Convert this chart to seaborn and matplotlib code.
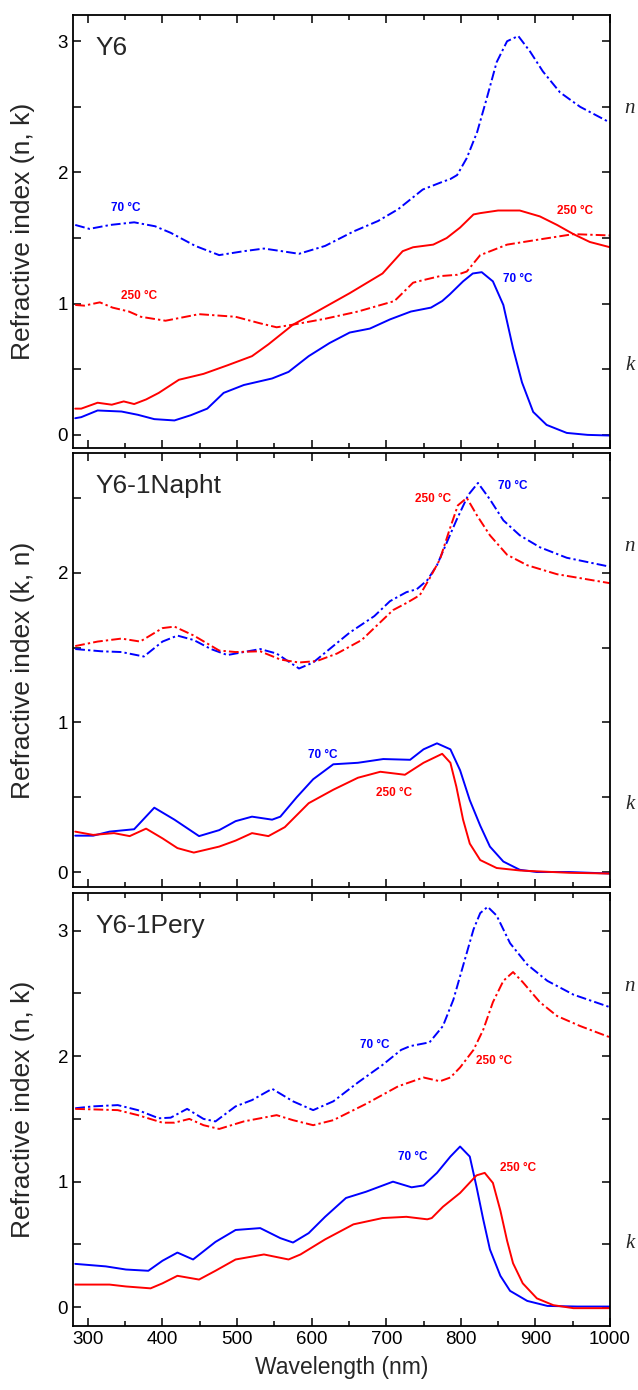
import matplotlib
matplotlib.use("Agg")
import matplotlib.pyplot as plt
import seaborn as sns
from matplotlib.ticker import MultipleLocator

sns.set_theme(style="ticks", context="paper")
plt.rcParams.update({
    "font.family": ["Liberation Sans", "DejaVu Sans"],
    "xtick.direction": "in",
    "ytick.direction": "in",
    "axes.linewidth": 1.3,
})

# ---- Y6 ----
y6_n70_wl = [283, 302, 330, 362, 390, 411, 444, 476, 509, 536, 560, 583, 618, 656, 689, 716, 749, 776, 786,
             795, 808, 822, 835, 848, 862, 877, 893, 910, 933, 960, 1000]
y6_n70 = [1.60, 1.57, 1.60, 1.62, 1.59, 1.54, 1.44, 1.37, 1.40, 1.42, 1.40, 1.38, 1.44, 1.55, 1.63, 1.72, 1.87,
          1.93, 1.95, 1.98, 2.11, 2.31, 2.57, 2.84, 3.00, 3.04, 2.92, 2.77, 2.61, 2.50, 2.38]
y6_n250_wl = [283, 295, 316, 333, 355, 371, 404, 449, 498, 531, 553, 575, 618, 662, 711, 736, 750, 772, 795,
              808, 826, 862, 906, 951, 1000]
y6_n250 = [0.99, 0.985, 1.01, 0.97, 0.94, 0.90, 0.87, 0.92, 0.90, 0.85, 0.82, 0.84, 0.885, 0.94, 1.02, 1.16,
           1.18, 1.21, 1.22, 1.245, 1.37, 1.45, 1.49, 1.53, 1.52]
y6_k250_wl = [283, 291, 313, 332, 348, 362, 378, 395, 422, 455, 487, 520, 542, 575, 607, 651, 695, 722, 736,
              763, 781, 799, 817, 826, 850, 879, 906, 929, 951, 973, 1000]
y6_k250 = [0.20, 0.20, 0.245, 0.23, 0.255, 0.235, 0.27, 0.32, 0.42, 0.465, 0.53, 0.60, 0.69, 0.84, 0.94, 1.08,
           1.23, 1.40, 1.43, 1.45, 1.50, 1.58, 1.68, 1.69, 1.71, 1.71, 1.665, 1.60, 1.53, 1.47, 1.43]
y6_k70_wl = [283, 291, 313, 345, 367, 389, 416, 438, 460, 482, 509, 547, 569, 596, 624, 651, 678, 705, 733,
             760, 775, 785, 803, 816, 828, 843, 857, 870, 882, 897, 915, 942, 970, 1000]
y6_k70 = [0.127, 0.135, 0.186, 0.178, 0.153, 0.12, 0.11, 0.15, 0.20, 0.32, 0.38, 0.43, 0.48, 0.60, 0.70, 0.78,
          0.81, 0.88, 0.94, 0.97, 1.02, 1.07, 1.17, 1.23, 1.24, 1.17, 0.99, 0.66, 0.40, 0.175, 0.076, 0.015,
          0.0, -0.005]

# ---- Y6-1Napht ----
np_n70_wl = [283, 318, 345, 375, 400, 420, 442, 465, 487, 509, 531, 553, 583, 602, 624, 651, 684, 705, 727,
             741, 755, 768, 781, 794, 810, 823, 839, 857, 879, 906, 942, 1000]
np_n70 = [1.49, 1.475, 1.47, 1.44, 1.54, 1.58, 1.55, 1.49, 1.45, 1.47, 1.49, 1.46, 1.36, 1.40, 1.49, 1.60,
          1.71, 1.81, 1.87, 1.89, 1.95, 2.05, 2.20, 2.35, 2.52, 2.60, 2.49, 2.35, 2.25, 2.17, 2.10, 2.04]
np_n250_wl = [283, 313, 345, 370, 400, 416, 442, 476, 498, 531, 558, 583, 607, 634, 667, 709, 728, 745, 759,
              772, 785, 796, 808, 822, 839, 862, 889, 929, 1000]
np_n250 = [1.51, 1.54, 1.56, 1.54, 1.63, 1.64, 1.58, 1.48, 1.47, 1.475, 1.42, 1.40, 1.41, 1.46, 1.55, 1.75,
           1.80, 1.85, 1.97, 2.09, 2.29, 2.45, 2.50, 2.38, 2.25, 2.12, 2.05, 1.99, 1.93]
np_k70_wl = [283, 307, 329, 362, 389, 416, 449, 476, 498, 520, 547, 558, 580, 602, 629, 662, 696, 732, 750,
             768, 786, 799, 812, 826, 839, 857, 879, 902, 945, 1000]
np_k70 = [0.243, 0.243, 0.27, 0.286, 0.43, 0.35, 0.24, 0.28, 0.34, 0.37, 0.35, 0.37, 0.50, 0.62, 0.72, 0.73,
          0.755, 0.75, 0.82, 0.86, 0.82, 0.68, 0.48, 0.31, 0.17, 0.07, 0.015, 0.0, 0.0, -0.01]
np_k250_wl = [283, 307, 335, 356, 378, 400, 420, 442, 476, 498, 520, 542, 564, 596, 629, 662, 692, 725, 750,
              775, 786, 794, 803, 812, 826, 848, 880, 945, 1000]
np_k250 = [0.27, 0.248, 0.26, 0.24, 0.29, 0.225, 0.16, 0.13, 0.17, 0.21, 0.26, 0.24, 0.30, 0.46, 0.55, 0.63,
           0.67, 0.65, 0.73, 0.79, 0.73, 0.57, 0.35, 0.19, 0.08, 0.027, 0.01, -0.005, -0.01]

# ---- Y6-1Pery ----
pe_n70_wl = [283, 307, 340, 367, 395, 411, 433, 455, 471, 498, 520, 547, 575, 602, 629, 662, 695, 720, 732,
             758, 776, 790, 803, 817, 826, 836, 848, 866, 889, 916, 951, 1000]
pe_n70 = [1.585, 1.60, 1.61, 1.57, 1.505, 1.51, 1.58, 1.50, 1.48, 1.60, 1.65, 1.74, 1.64, 1.57, 1.64, 1.79,
          1.93, 2.05, 2.08, 2.11, 2.24, 2.45, 2.72, 3.01, 3.14, 3.19, 3.12, 2.90, 2.73, 2.60, 2.49, 2.39]
pe_n250_wl = [283, 340, 367, 400, 416, 436, 455, 476, 509, 553, 575, 602, 629, 673, 716, 750, 772, 786, 799,
              817, 830, 843, 857, 870, 883, 906, 929, 960, 1000]
pe_n250 = [1.58, 1.57, 1.53, 1.47, 1.47, 1.50, 1.45, 1.42, 1.48, 1.53, 1.49, 1.45, 1.49, 1.62, 1.76, 1.83,
           1.80, 1.83, 1.91, 2.05, 2.21, 2.43, 2.60, 2.67, 2.59, 2.43, 2.32, 2.24, 2.15]
pe_k70_wl = [283, 324, 351, 381, 400, 420, 441, 471, 498, 531, 558, 575, 596, 618, 646, 673, 709, 734, 750,
             768, 786, 799, 812, 821, 830, 839, 853, 866, 889, 916, 956, 1000]
pe_k70 = [0.345, 0.325, 0.30, 0.29, 0.37, 0.435, 0.38, 0.52, 0.615, 0.63, 0.55, 0.515, 0.59, 0.72, 0.87, 0.92,
          1.00, 0.955, 0.97, 1.07, 1.20, 1.28, 1.20, 0.96, 0.70, 0.46, 0.25, 0.13, 0.05, 0.01, 0.005, 0.005]
pe_k250_wl = [283, 329, 351, 384, 400, 420, 449, 471, 498, 536, 569, 585, 618, 656, 695, 727, 755, 761, 776,
              799, 821, 832, 843, 853, 862, 870, 883, 902, 924, 951, 1000]
pe_k250 = [0.18, 0.18, 0.165, 0.15, 0.19, 0.25, 0.22, 0.29, 0.38, 0.42, 0.38, 0.42, 0.54, 0.66, 0.71, 0.72,
           0.70, 0.71, 0.80, 0.91, 1.05, 1.07, 0.99, 0.77, 0.53, 0.35, 0.19, 0.07, 0.016, -0.008, -0.008]

panel_names = ["Y6", "Y6-1Napht", "Y6-1Pery"]
panel_ylabels = ["Refractive index (n, k)", "Refractive index (k, n)", "Refractive index (n, k)"]
panel_ylims = [(-0.1, 3.2), (-0.1, 2.8), (-0.15, 3.3)]

# (text, colour, wavelength, value) annotations
panel_notes = [
    [("70 °C", "blue", 351, 1.73), ("250 °C", "red", 369, 1.06),
     ("70 °C", "blue", 876, 1.19), ("250 °C", "red", 953, 1.71)],
    [("70 °C", "blue", 870, 2.58), ("250 °C", "red", 763, 2.49),
     ("70 °C", "blue", 615, 0.78), ("250 °C", "red", 711, 0.53)],
    [("70 °C", "blue", 684, 2.09), ("250 °C", "red", 845, 1.96),
     ("70 °C", "blue", 735, 1.20), ("250 °C", "red", 877, 1.11)],
]

curves = [
    [(y6_n70_wl, y6_n70, "blue", True), (y6_n250_wl, y6_n250, "red", True),
     (y6_k70_wl, y6_k70, "blue", False), (y6_k250_wl, y6_k250, "red", False)],
    [(np_n70_wl, np_n70, "blue", True), (np_n250_wl, np_n250, "red", True),
     (np_k70_wl, np_k70, "blue", False), (np_k250_wl, np_k250, "red", False)],
    [(pe_n70_wl, pe_n70, "blue", True), (pe_n250_wl, pe_n250, "red", True),
     (pe_k70_wl, pe_k70, "blue", False), (pe_k250_wl, pe_k250, "red", False)],
]

fig = plt.figure(figsize=(6.38, 13.9), dpi=100)
W, H = 638, 1390
boxes = [(15, 448), (453, 887), (893, 1326)]
dashdot = (0, (5, 1.6, 1.2, 1.6))
serif = ["Liberation Serif", "DejaVu Serif"]

for i, (top, bottom) in enumerate(boxes):
    ax = fig.add_axes([73 / W, 1 - bottom / H, (610 - 73) / W, (bottom - top) / H])
    for wl, val, col, is_n in curves[i]:
        sns.lineplot(x=wl, y=val, ax=ax, color=col, linewidth=1.4,
                     linestyle=dashdot if is_n else "-", estimator=None)
    ax.set_xlim(280, 1000)
    ax.set_ylim(*panel_ylims[i])
    ax.xaxis.set_major_locator(MultipleLocator(100))
    ax.xaxis.set_minor_locator(MultipleLocator(50))
    ax.yaxis.set_major_locator(MultipleLocator(1))
    ax.yaxis.set_minor_locator(MultipleLocator(0.5))
    ax.tick_params(which="both", top=True, right=True, left=True, direction="in", width=1.1,
                   labelsize=13.5, colors="black")
    ax.tick_params(which="major", length=6)
    ax.tick_params(axis="x", which="minor", length=3.5)
    ax.tick_params(axis="y", which="minor", length=6)
    for s in ax.spines.values():
        s.set_color("black")
    ax.set_ylabel(panel_ylabels[i], fontsize=19)
    ax.yaxis.set_label_coords(-0.07, 0.5)
    ax.text(0.042, 0.924, panel_names[i], transform=ax.transAxes, fontsize=19,
            va="center", ha="left")
    for txt, col, xw, yv in panel_notes[i]:
        ax.text(xw, yv, txt, color=col, fontsize=8.5, fontweight="bold",
                ha="center", va="center")
    ax.text(1.037, 0.785, "n", transform=ax.transAxes, fontsize=15, style="italic",
            family=serif, ha="center", va="center")
    ax.text(1.037, 0.19, "k", transform=ax.transAxes, fontsize=15, style="italic",
            family=serif, ha="center", va="center")
    if i < 2:
        ax.set_xticklabels([])
        ax.set_xlabel("")
    else:
        ax.set_xlabel("Wavelength (nm)", fontsize=16.5, labelpad=6)

fig.savefig("out.png", dpi=100)
